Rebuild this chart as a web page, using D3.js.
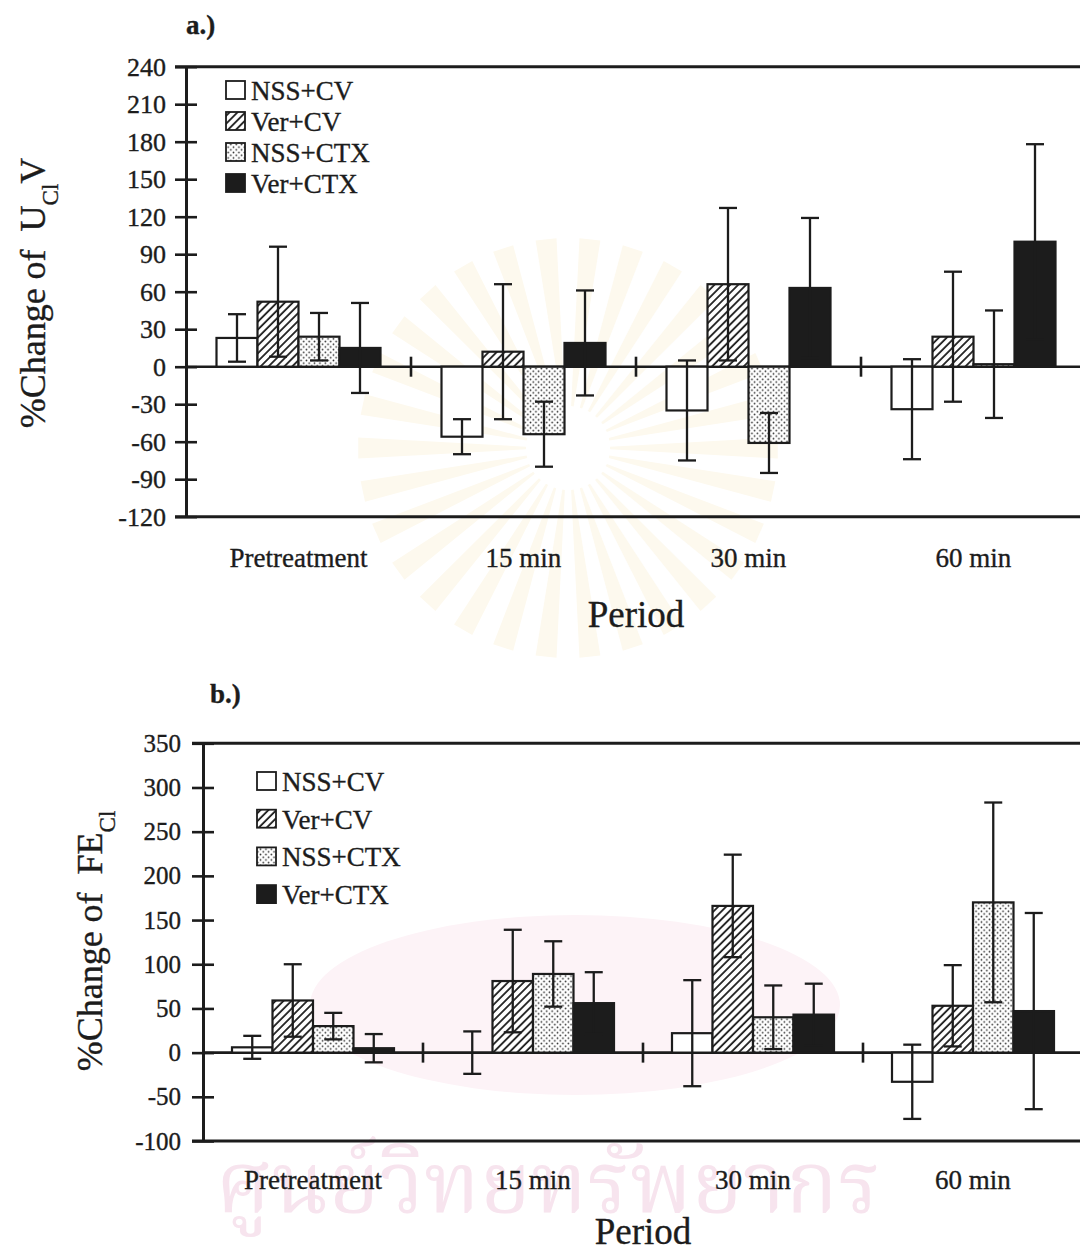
<!DOCTYPE html>
<html>
<head>
<meta charset="utf-8">
<script src="https://cdn.jsdelivr.net/npm/d3@7"></script>
<style>
  html, body { margin: 0; padding: 0; background: #ffffff; }
  svg { display: block; }
  text { font-family: "Liberation Serif", "Times New Roman", serif; fill: #1c1c1c; }
  .ink text { stroke: #1c1c1c; stroke-width: 0.35px; }
</style>
</head>
<body>
<svg id="fig" width="1080" height="1254"></svg>
<script>
// ---- categories ----
const periods = ["Pretreatment", "15 min", "30 min", "60 min"];
const groups  = ["NSS+CV", "Ver+CV", "NSS+CTX", "Ver+CTX"];

// ---- panel a: %Change of U_Cl V (mean and SD per period) ----
const aMeanNssCv  = [23, -56, -35, -34];
const aSdNssCv    = [19, 14, 40, 40];
const aMeanVerCv  = [52, 12, 66, 24];
const aSdVerCv    = [44, 54, 61, 52];
const aMeanNssCtx = [24, -54, -61, 2];
const aSdNssCtx   = [19, 26, 24, 43];
const aMeanVerCtx = [15, 19, 63, 100];
const aSdVerCtx   = [36, 42, 56, 78];
const aTicks = [-120, -90, -60, -30, 0, 30, 60, 90, 120, 150, 180, 210, 240];

// ---- panel b: %Change of FE_Cl (mean and SD per period) ----
const bMeanNssCv  = [6, 0, 22, -33];
const bSdNssCv    = [13, 24, 60, 42];
const bMeanVerCv  = [59, 81, 166, 53];
const bSdVerCv    = [41, 58, 58, 46];
const bMeanNssCtx = [30, 89, 40, 170];
const bSdNssCtx   = [15, 37, 36, 113];
const bMeanVerCtx = [5, 56, 43, 47];
const bSdVerCtx   = [16, 35, 35, 111];
const bTicks = [-100, -50, 0, 50, 100, 150, 200, 250, 300, 350];

const svg = d3.select("#fig");

// ---- fill patterns: plain, hatched, stippled, solid ----
const defs = svg.append("defs");
const hatch = defs.append("pattern")
  .attr("id", "hatch").attr("patternUnits", "userSpaceOnUse")
  .attr("width", 5.6).attr("height", 5.6)
  .attr("patternTransform", "rotate(45)");
hatch.append("rect").attr("width", 5.6).attr("height", 5.6).attr("fill", "#fff");
hatch.append("line").attr("x1", 1).attr("x2", 1).attr("y1", 0).attr("y2", 5.6)
  .attr("stroke", "#1c1c1c").attr("stroke-width", 1.8);

const dots = defs.append("pattern")
  .attr("id", "dots").attr("patternUnits", "userSpaceOnUse")
  .attr("width", 5.4).attr("height", 5.4);
dots.append("rect").attr("width", 5.4).attr("height", 5.4).attr("fill", "#fff");
dots.append("circle").attr("cx", 1.35).attr("cy", 1.35).attr("r", 0.85).attr("fill", "#2a2a2a");
dots.append("circle").attr("cx", 4.05).attr("cy", 4.05).attr("r", 0.85).attr("fill", "#2a2a2a");

const fills = { "NSS+CV": "#ffffff", "Ver+CV": "url(#hatch)", "NSS+CTX": "url(#dots)", "Ver+CTX": "#1c1c1c" };

// ---- faint library watermark behind the figure ----
const wm = svg.append("g").attr("class", "watermark");
const rayCenter = [568, 448];
const rayCount = 30;
wm.selectAll("path.ray")
  .data(d3.range(rayCount))
  .join("path")
  .attr("class", "ray")
  .attr("fill", "#fdf9ee")
  .attr("d", k => {
    const a = k * 2 * Math.PI / rayCount;
    const r0 = 42, r1 = 210, w0 = 0.03, w1 = 0.05;
    const p = (r, t) => [rayCenter[0] + r * Math.cos(t), rayCenter[1] + r * Math.sin(t)];
    return d3.line()([p(r0, a - w0), p(r1, a - w1), p(r1, a + w1), p(r0, a + w0)]) + "Z";
  });
wm.append("ellipse")
  .attr("cx", 575).attr("cy", 1005).attr("rx", 265).attr("ry", 90)
  .attr("fill", "#fdf3f7");
wm.append("text")
  .attr("x", 548).attr("y", 1212)
  .attr("text-anchor", "middle")
  .style("font-family", "'Noto Serif Thai','Noto Sans Thai','Loma','Garuda','DejaVu Sans',sans-serif")
  .style("font-size", "86px")
  .style("fill", "#f7e4ee")
  .text("ศูนย์วิทยทรัพยากร");

// ---- one bar panel ----
function drawPanel(cfg) {
  const g = svg.append("g").attr("class", "ink");
  const x0 = d3.scaleBand().domain(periods).range([cfg.left, cfg.right]);
  const pad = (x0.bandwidth() - cfg.groupWidth) / 2;
  const x1 = d3.scaleBand().domain(groups).range([pad, x0.bandwidth() - pad]);
  const y = d3.scaleLinear().domain([cfg.ticks[0], cfg.ticks[cfg.ticks.length - 1]])
    .range([cfg.bottom, cfg.top]);

  // frame lines: top, bottom, zero
  const frameRight = 1090;
  [cfg.ticks[cfg.ticks.length - 1], cfg.ticks[0]].forEach(v => {
    g.append("line").attr("x1", cfg.left - 11).attr("x2", frameRight)
      .attr("y1", y(v)).attr("y2", y(v))
      .attr("stroke", "#1c1c1c").attr("stroke-width", 3);
  });
  g.append("line").attr("x1", cfg.left).attr("x2", frameRight)
    .attr("y1", y(0)).attr("y2", y(0))
    .attr("stroke", "#1c1c1c").attr("stroke-width", 2.6);

  // period separators on the zero line
  g.selectAll("line.sep").data(periods.slice(1)).join("line")
    .attr("class", "sep")
    .attr("x1", d => x0(d)).attr("x2", d => x0(d))
    .attr("y1", y(0) - 10).attr("y2", y(0) + 10)
    .attr("stroke", "#1c1c1c").attr("stroke-width", 2.6);

  // y axis (plain hyphen for negatives)
  const axis = g.append("g").attr("transform", `translate(${cfg.left},0)`)
    .call(d3.axisLeft(y).tickValues(cfg.ticks).tickFormat(d => String(d))
      .tickSize(11).tickSizeOuter(0).tickPadding(cfg.tickPad));
  axis.select(".domain").attr("stroke", "#1c1c1c").attr("stroke-width", 3);
  axis.selectAll(".tick line").attr("x1", 11).attr("stroke", "#1c1c1c").attr("stroke-width", 2.6);
  axis.selectAll(".tick text")
    .style("font-family", "'Liberation Serif',serif")
    .style("font-size", cfg.tickFont + "px")
    .attr("fill", "#1c1c1c");

  // bars
  const rows = [];
  periods.forEach((p, i) => {
    groups.forEach((s, j) => {
      rows.push({ p, s, v: cfg.means[j][i], sd: cfg.sds[j][i] });
    });
  });
  const bars = g.append("g");
  bars.selectAll("rect").data(rows).join("rect")
    .attr("x", d => x0(d.p) + x1(d.s))
    .attr("width", x1.bandwidth())
    .attr("y", d => y(Math.max(0, d.v)))
    .attr("height", d => Math.abs(y(d.v) - y(0)))
    .attr("fill", d => fills[d.s])
    .attr("stroke", "#1c1c1c").attr("stroke-width", 2.2);

  // error bars (mean ± SD)
  const eb = g.append("g").attr("stroke", "#1c1c1c").attr("stroke-width", 2.3);
  const cx = d => x0(d.p) + x1(d.s) + x1.bandwidth() / 2;
  eb.selectAll("line.stem").data(rows).join("line").attr("class", "stem")
    .attr("x1", cx).attr("x2", cx)
    .attr("y1", d => y(d.v - d.sd)).attr("y2", d => y(d.v + d.sd));
  eb.selectAll("line.capTop").data(rows).join("line").attr("class", "capTop")
    .attr("x1", d => cx(d) - 9).attr("x2", d => cx(d) + 9)
    .attr("y1", d => y(d.v + d.sd)).attr("y2", d => y(d.v + d.sd));
  eb.selectAll("line.capBot").data(rows).join("line").attr("class", "capBot")
    .attr("x1", d => cx(d) - 9).attr("x2", d => cx(d) + 9)
    .attr("y1", d => y(d.v - d.sd)).attr("y2", d => y(d.v - d.sd));

  // category labels
  g.selectAll("text.cat").data(periods).join("text").attr("class", "cat")
    .attr("x", d => x0(d) + x0.bandwidth() / 2)
    .attr("y", cfg.bottom + cfg.catGap)
    .attr("text-anchor", "middle")
    .style("font-size", "27px")
    .text(d => d);

  // x title
  g.append("text")
    .attr("x", (cfg.left + cfg.right) / 2).attr("y", cfg.bottom + cfg.periodGap)
    .attr("text-anchor", "middle")
    .style("font-size", cfg.periodFont + "px")
    .text("Period");

  // y title with subscript
  const yt = g.append("text")
    .attr("transform", `translate(${cfg.yTitleX},${cfg.yTitleY}) rotate(-90)`)
    .attr("text-anchor", "middle")
    .style("font-size", "36px")
    .style("white-space", "pre");
  yt.append("tspan").text(cfg.yTitle[0]);
  yt.append("tspan").attr("baseline-shift", "sub").style("font-size", "23px").text(cfg.yTitle[1]);
  if (cfg.yTitle[2]) yt.append("tspan").text(cfg.yTitle[2]);

  // panel letter
  g.append("text").attr("x", cfg.letterX).attr("y", cfg.letterY)
    .style("font-size", "27px").style("font-weight", "bold")
    .text(cfg.letter);

  // legend
  const lg = g.append("g");
  groups.forEach((s, j) => {
    const by = cfg.legY + j * cfg.legStep;
    lg.append("rect")
      .attr("x", cfg.legX).attr("y", by - 19).attr("width", 19).attr("height", 18)
      .attr("fill", fills[s]).attr("stroke", "#1c1c1c").attr("stroke-width", 1.8);
    lg.append("text").attr("x", cfg.legX + 25).attr("y", by)
      .style("font-size", "27px").text(s);
  });
}

drawPanel({
  left: 186, right: 1086, top: 66.7, bottom: 516.7, groupWidth: 164,
  ticks: aTicks, tickPad: 9, tickFont: 26,
  means: [aMeanNssCv, aMeanVerCv, aMeanNssCtx, aMeanVerCtx],
  sds: [aSdNssCv, aSdVerCv, aSdNssCtx, aSdVerCtx],
  catGap: 50, periodGap: 110, periodFont: 37,
  yTitle: ["%Change of  U", "Cl", "V"], yTitleX: 45, yTitleY: 293,
  letter: "a.)", letterX: 186, letterY: 34,
  legX: 226, legY: 100, legStep: 31
});

drawPanel({
  left: 203, right: 1083, top: 743.3, bottom: 1141, groupWidth: 162,
  ticks: bTicks, tickPad: 11, tickFont: 25,
  means: [bMeanNssCv, bMeanVerCv, bMeanNssCtx, bMeanVerCtx],
  sds: [bSdNssCv, bSdVerCv, bSdNssCtx, bSdVerCtx],
  catGap: 48, periodGap: 103, periodFont: 37,
  yTitle: ["%Change of  FE", "Cl", ""], yTitleX: 102, yTitleY: 941,
  letter: "b.)", letterX: 210, letterY: 703,
  legX: 257, legY: 791, legStep: 37.7
});
</script>
</body>
</html>
